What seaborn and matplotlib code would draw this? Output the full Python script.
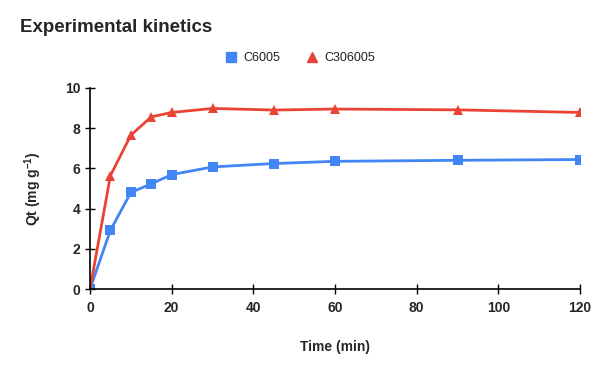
import pandas as pd
import matplotlib
matplotlib.use("Agg")
import matplotlib.pyplot as plt
import seaborn as sns

# values
time_min = [0, 5, 10, 15, 20, 30, 45, 60, 90, 120]
c6005 = [0, 2.92, 4.8, 5.23, 5.69, 6.07, 6.24, 6.35, 6.4, 6.44]
c306005 = [0, 5.64, 7.65, 8.56, 8.78, 8.98, 8.9, 8.95, 8.91, 8.78]
series_names = ["C6005", "C306005"]

df = pd.concat([
    pd.DataFrame({"Time": time_min, "Qt": c6005, "Sample": series_names[0]}),
    pd.DataFrame({"Time": time_min, "Qt": c306005, "Sample": series_names[1]}),
])

sns.set_style("white")
plt.rcParams["font.family"] = ["Liberation Sans", "DejaVu Sans"]
plt.rcParams["mathtext.fontset"] = "custom"
plt.rcParams["mathtext.rm"] = "Liberation Sans:bold"
plt.rcParams["mathtext.default"] = "regular"

colors = {"C6005": "#4285F4", "C306005": "#EA4335"}
markers = {"C6005": "s", "C306005": "^"}

fig = plt.figure(figsize=(6, 3.71), dpi=100)
ax = fig.add_axes([0.15, 0.221, 0.8167, 0.542])

sns.lineplot(data=df, x="Time", y="Qt", hue="Sample", style="Sample",
             palette=colors, markers=markers, dashes=False,
             markersize=6.5, markeredgewidth=0, linewidth=2, ax=ax, legend=False)

ax.set_xlim(0, 120)
ax.set_ylim(0, 10)
ax.set_xticks(range(0, 121, 20))
ax.set_yticks(range(0, 11, 2))
for side in ["top", "right"]:
    ax.spines[side].set_visible(False)
for side in ["left", "bottom"]:
    ax.spines[side].set_color("black")
    ax.spines[side].set_linewidth(1.2)
ax.tick_params(direction="inout", length=7, width=1, color="black",
               labelsize=10, bottom=True, left=True)
ax.tick_params(axis="x", pad=5)
for lbl in ax.get_xticklabels() + ax.get_yticklabels():
    lbl.set_fontweight("bold")

ax.set_xlabel("Time (min)", fontsize=10, fontweight="bold", labelpad=18)
ax.set_ylabel(r"Qt (mg g$^{-1}$)", fontsize=10, fontweight="bold", labelpad=15)

fig.text(0.033, 0.915, "Experimental kinetics", fontsize=13.5, fontweight="bold")

handles = [plt.Line2D([], [], marker=markers[n], color=colors[n], linestyle="",
                      markersize=7) for n in series_names]
leg = fig.legend(handles, series_names, loc="center", bbox_to_anchor=(0.5, 0.843),
                 ncol=2, frameon=False, fontsize=9, handletextpad=0.5,
                 columnspacing=2.0, handlelength=1)
for t in leg.get_texts():
    t.set_color("#222222")

fig.savefig("out.png", dpi=100)
